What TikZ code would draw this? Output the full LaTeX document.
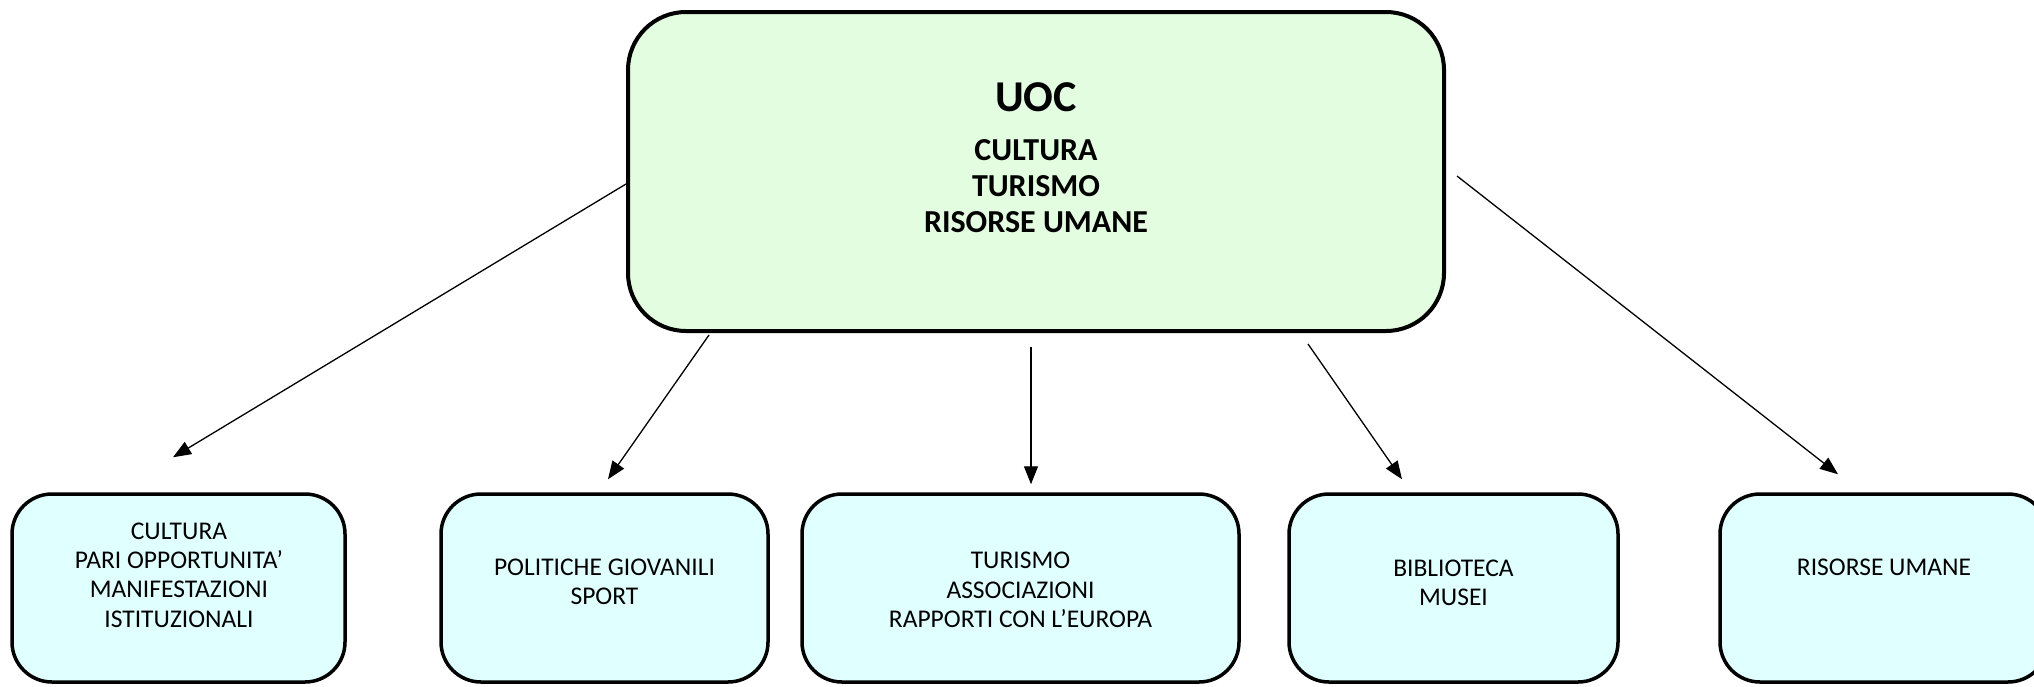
\documentclass[tikz,border=0pt]{standalone}
\usepackage{fontspec}
\setmainfont{Carlito}
\usetikzlibrary{arrows.meta,shapes}
\definecolor{uocgreen}{RGB}{226,253,224}
\definecolor{subcyan}{RGB}{224,255,255}
\tikzstyle{topbox}=[draw,line width=4pt,rounded corners=58pt,fill=uocgreen,minimum width=816pt,minimum height=319pt,inner sep=0pt]
\tikzstyle{subbox}=[draw,line width=3.5pt,rounded corners=40pt,fill=subcyan,minimum height=188pt,inner sep=0pt]
\tikzstyle{titletext}=[align=center,font=\bfseries\fontsize{44}{50}\selectfont]
\tikzstyle{headtext}=[align=center,font=\bfseries\fontsize{32}{36}\selectfont]
\tikzstyle{subtext}=[align=center,font=\fontsize{25.5}{29.3}\selectfont]
\tikzstyle{edge} = [draw,line width=1.3pt,-{Triangle[length=18pt,width=14pt]}]

\begin{document}
\begin{tikzpicture}[x=1pt,y=-1pt]
        \clip (0,0) rectangle (2034,686);
        %\fill[white] (0,0) rectangle (2034,686);
        \node[topbox] (uoc) at (1036,171.5) {};
        \node[titletext] (uoctitle) at (1036,97) {UOC};
        \node[headtext] (uochead) at (1036,186) {CULTURA\\TURISMO\\RISORSE UMANE};
        \node[subbox,minimum width=333pt] (cultura) at (178.5,588) {};
        \node[subbox,minimum width=327pt] (politiche) at (604.5,588) {};
        \node[subbox,minimum width=437pt] (turismo) at (1020.5,588) {};
        \node[subbox,minimum width=329pt] (biblioteca) at (1453.5,588) {};
        \node[subbox,minimum width=328pt] (risorse) at (1884,588) {};
        \node[subtext] (culturatxt) at (179,575) {CULTURA\\PARI OPPORTUNITA’\\MANIFESTAZIONI\\ISTITUZIONALI};
        \node[subtext] (politichetxt) at (604.5,582) {POLITICHE GIOVANILI\\SPORT};
        \node[subtext] (turismotxt) at (1020.5,590) {TURISMO\\ASSOCIAZIONI\\RAPPORTI CON L’EUROPA};
        \node[subtext] (bibliotecatxt) at (1453.5,583) {BIBLIOTECA\\MUSEI};
        \node[subtext] (risorsetxt) at (1884,567) {RISORSE UMANE};
        \coordinate (tip1) at ([xshift=-5.5pt,yshift=35pt]cultura.north);
        \coordinate (tip2) at ([xshift=3.5pt,yshift=13pt]politiche.north);
        \coordinate (tip3) at ([xshift=10.5pt,yshift=8pt]turismo.north);
        \coordinate (tip4) at ([xshift=-51.5pt,yshift=13pt]biblioteca.north);
        \coordinate (tip5) at ([xshift=-46pt,yshift=18pt]risorse.north);
        \draw[edge] ([yshift=-12.5pt]uoc.west) to (tip1);
        \draw[edge] ([xshift=83pt,yshift=-2pt]uoc.south west) to (tip2);
        \draw[edge] ([xshift=-5pt,yshift=-14pt]uoc.south) to (tip3);
        \draw[edge] ([xshift=-138pt,yshift=-11pt]uoc.south east) to (tip4);
        \draw[edge] ([xshift=11pt,yshift=-4.5pt]uoc.east) to (tip5);
      \end{tikzpicture}
\end{document}
